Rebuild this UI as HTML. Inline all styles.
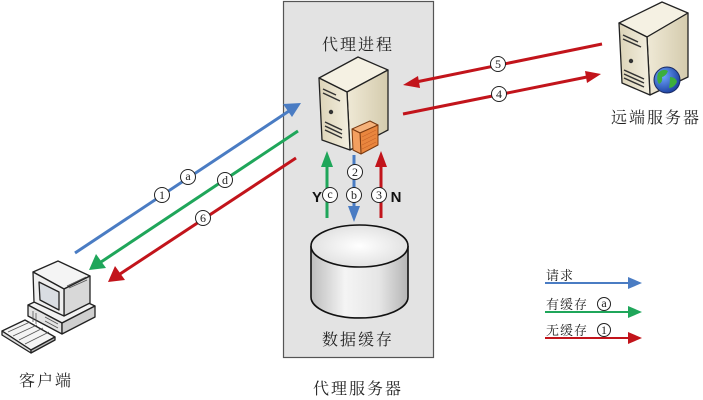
<!DOCTYPE html>
<html><head><meta charset="utf-8"><style>
html,body{margin:0;padding:0;background:#fff;}
svg{display:block;}
.cn{font-family:"Liberation Serif","Noto Serif CJK SC",serif;fill:#222;}
.cl{font-family:"Liberation Serif","Noto Serif CJK SC",serif;font-size:12px;fill:#222;text-anchor:middle;}
</style></head><body>
<svg width="703" height="400" viewBox="0 0 703 400" xmlns="http://www.w3.org/2000/svg">
<defs>
<linearGradient id="cyl" x1="0" x2="1" y1="0" y2="0">
<stop offset="0" stop-color="#bdbdbd"/><stop offset="0.35" stop-color="#f4f4f4"/><stop offset="0.7" stop-color="#e6e6e6"/><stop offset="1" stop-color="#b5b5b5"/>
</linearGradient>
<radialGradient id="cyltop" cx="0.5" cy="0.5" r="0.6">
<stop offset="0" stop-color="#ffffff"/><stop offset="1" stop-color="#dcdcdc"/>
</radialGradient>
<linearGradient id="srvR" x1="0" x2="1"><stop offset="0" stop-color="#efe9d6"/><stop offset="1" stop-color="#d4cbad"/></linearGradient>
<linearGradient id="srvF" x1="0" x2="1"><stop offset="0" stop-color="#ddd4b8"/><stop offset="1" stop-color="#f3efe0"/></linearGradient>
<radialGradient id="globe" cx="0.35" cy="0.35" r="0.7"><stop offset="0" stop-color="#6fa6ff"/><stop offset="1" stop-color="#1a3f9e"/></radialGradient>
</defs>

<!-- proxy box -->
<rect x="283.5" y="1.5" width="150" height="356" fill="#e3e3e3" stroke="#555" stroke-width="1.2"/>

<text class="cn" x="358" y="50" font-size="16" text-anchor="middle" letter-spacing="2">代理进程</text>
<text class="cn" x="358" y="345" font-size="16" text-anchor="middle" letter-spacing="2">数据缓存</text>
<text class="cn" x="358" y="394" font-size="16" text-anchor="middle" letter-spacing="2">代理服务器</text>
<text class="cn" x="656" y="123" font-size="16" text-anchor="middle" letter-spacing="2">远端服务器</text>
<text class="cn" x="46" y="386" font-size="16" text-anchor="middle" letter-spacing="2">客户端</text>

<!-- proxy server icon -->
<g stroke="#222" stroke-width="1.3" stroke-linejoin="round">
<polygon points="319,78 358,57 388,70 347,92" fill="#f5f1e3"/>
<polygon points="347,92 388,70 388,130 350,150" fill="url(#srvR)"/>
<polygon points="319,78 347,92 350,150 322,140" fill="url(#srvF)"/>
</g>
<g stroke="#333" stroke-width="1.5">
<line x1="323" y1="89" x2="336" y2="95"/>
<line x1="323" y1="93" x2="340" y2="101"/>
<line x1="325" y1="122" x2="342" y2="130"/>
<line x1="325" y1="126" x2="342" y2="134"/>
<line x1="325" y1="130" x2="342" y2="138"/>
</g>
<circle cx="331" cy="112" r="2.2" fill="#333"/>
<g stroke="#7a3a10" stroke-width="1" stroke-linejoin="round">
<polygon points="352,129 370,121 378,125 360,133" fill="#f5b27a"/>
<polygon points="360,133 378,125 378,145 361,154" fill="#e9863e"/>
<polygon points="352,129 360,133 361,154 353,150" fill="#f3a060"/>
</g>
<g stroke="#c8642a" stroke-width="0.6">
<line x1="362" y1="137" x2="376" y2="130"/><line x1="362" y1="141" x2="376" y2="134"/><line x1="362" y1="145" x2="376" y2="138"/><line x1="362" y1="149" x2="376" y2="142"/>
</g>

<!-- remote server icon -->
<g stroke="#222" stroke-width="1.3" stroke-linejoin="round">
<polygon points="619,23 662,2 688,13 647,37" fill="#f5f1e3"/>
<polygon points="647,37 688,13 688,77 650,95" fill="url(#srvR)"/>
<polygon points="619,23 647,37 650,95 622,83" fill="url(#srvF)"/>
</g>
<g stroke="#333" stroke-width="1.5">
<line x1="623" y1="35" x2="638" y2="42"/>
<line x1="623" y1="39" x2="641" y2="47"/>
<line x1="624" y1="70" x2="644" y2="79"/>
<line x1="624" y1="74" x2="644" y2="83"/>
<line x1="624" y1="78" x2="644" y2="87"/>
</g>
<circle cx="631" cy="61" r="2.2" fill="#333"/>
<circle cx="667" cy="80" r="13" fill="url(#globe)" stroke="#1a2a60" stroke-width="1"/>
<path d="M658,73 q5,-5 10,-2 q-2,5 -6,6 q1,5 -3,7 q-3,-4 -1,-11z M670,77 q6,0 7,5 q-3,6 -8,6 q1,-5 1,-11z" fill="#3cae3c"/>

<!-- client computer -->
<g stroke="#222" stroke-width="1.3" stroke-linejoin="round">
<polygon points="28,305 60,290 95,306 62,323" fill="#f2f2f2"/>
<polygon points="28,305 62,323 62,334 28,316" fill="#e4e4e4"/>
<polygon points="62,323 95,306 95,317 62,334" fill="#cfcfcf"/>
<polygon points="33,272 58,261 90,276 64,289" fill="#f4f4f4"/>
<polygon points="64,289 90,276 90,303 64,316" fill="#d8d8d8"/>
<polygon points="33,272 64,289 64,316 34,302" fill="#efefef"/>
<polygon points="39,282 59,292 59,310 40,300" fill="#d9dde2"/>
<polygon points="2,331 25,320 55,337 31,350" fill="#f4f4f4"/>
<polygon points="2,331 31,350 31,353 2,335" fill="#ddd"/>
<polygon points="31,350 55,337 55,340 31,353" fill="#bbb"/>
</g>
<g stroke="#555" stroke-width="0.8">
<line x1="8" y1="332" x2="30" y2="322"/><line x1="13" y1="336" x2="37" y2="325"/><line x1="19" y1="340" x2="43" y2="328"/><line x1="25" y1="344" x2="49" y2="332"/>
<line x1="67" y1="286" x2="86" y2="277"/><line x1="69" y1="288" x2="87" y2="280"/>
<line x1="33" y1="311" x2="33" y2="322"/><line x1="36" y1="313" x2="36" y2="324"/>
<line x1="45" y1="317" x2="58" y2="324"/><line x1="45" y1="321" x2="58" y2="328"/>
</g>

<!-- cylinder -->
<g stroke="#111" stroke-width="1.6">
<path d="M311,246 L311,297 A48.5,21 0 0 0 408,297 L408,246" fill="url(#cyl)"/>
<ellipse cx="359.5" cy="246" rx="48.5" ry="21" fill="url(#cyltop)"/>
</g>

<!-- diagonal left arrows -->
<g stroke-width="3" fill="none" stroke-linecap="butt">
<line x1="75" y1="253" x2="289" y2="111" stroke="#4a7cc3"/>
<line x1="298" y1="131" x2="101" y2="262" stroke="#1fa65a"/>
<line x1="296" y1="158" x2="120" y2="274" stroke="#c2141b"/>
</g>
<polygon points="301,103 283,104 292,117" fill="#4a7cc3"/>
<polygon points="89,270 96,254 106,268" fill="#1fa65a"/>
<polygon points="108,282 115,266 125,280" fill="#c2141b"/>

<!-- right arrows -->
<g stroke-width="3" fill="none">
<line x1="602" y1="44" x2="416" y2="82" stroke="#c2141b"/>
<line x1="403" y1="114" x2="587" y2="77" stroke="#c2141b"/>
</g>
<polygon points="403,85 418,76 420,88" fill="#c2141b"/>
<polygon points="601,74 585,71 587,83" fill="#c2141b"/>

<!-- vertical arrows -->
<g stroke-width="3">
<line x1="327" y1="218" x2="327" y2="164" stroke="#1fa65a"/>
<line x1="354" y1="155" x2="354" y2="208" stroke="#4a7cc3"/>
<line x1="381" y1="218" x2="381" y2="164" stroke="#c2141b"/>
</g>
<polygon points="327,151 321,167 333,167" fill="#1fa65a"/>
<polygon points="354,222 348,206 360,206" fill="#4a7cc3"/>
<polygon points="381,151 375,167 387,167" fill="#c2141b"/>

<text x="317" y="202" font-family="Liberation Sans,sans-serif" font-weight="bold" font-size="15" text-anchor="middle" fill="#111">Y</text>
<text x="396" y="202" font-family="Liberation Sans,sans-serif" font-weight="bold" font-size="15" text-anchor="middle" fill="#111">N</text>

<!-- circle labels -->
<g fill="#fff" stroke="#222" stroke-width="1">
<circle cx="162" cy="195" r="7.5"/><circle cx="188" cy="177" r="7.5"/><circle cx="225" cy="180" r="7.5"/><circle cx="203" cy="218" r="7.5"/>
<circle cx="498" cy="64" r="7.5"/><circle cx="499" cy="94" r="7.5"/>
<circle cx="355" cy="172" r="7.5"/><circle cx="330" cy="195" r="7.5"/><circle cx="354" cy="195" r="7.5"/><circle cx="379" cy="195" r="7.5"/>
</g>
<text class="cl" x="162" y="199">1</text>
<text class="cl" x="188" y="180">a</text>
<text class="cl" x="225" y="184">d</text>
<text class="cl" x="203" y="222">6</text>
<text class="cl" x="498" y="68">5</text>
<text class="cl" x="499" y="98">4</text>
<text class="cl" x="355" y="176">2</text>
<text class="cl" x="330" y="198">c</text>
<text class="cl" x="354" y="199">b</text>
<text class="cl" x="379" y="199">3</text>

<!-- legend -->
<text class="cn" x="546" y="280" font-size="13" letter-spacing="1">请求</text>
<text class="cn" x="546" y="309" font-size="13" letter-spacing="1">有缓存</text>
<text class="cn" x="546" y="335" font-size="13" letter-spacing="1">无缓存</text>
<g fill="#fff" stroke="#222" stroke-width="1">
<circle cx="604" cy="304" r="6.5"/><circle cx="604" cy="330" r="6.5"/>
</g>
<text class="cl" x="604" y="307" font-size="10">a</text>
<text class="cl" x="604" y="334" font-size="10">1</text>
<g stroke-width="2">
<line x1="545" y1="283" x2="630" y2="283" stroke="#4a7cc3"/>
<line x1="545" y1="312" x2="630" y2="312" stroke="#1fa65a"/>
<line x1="545" y1="338" x2="630" y2="338" stroke="#c2141b"/>
</g>
<polygon points="642,283 628,277 628,289" fill="#4a7cc3"/>
<polygon points="642,312 628,306 628,318" fill="#1fa65a"/>
<polygon points="642,338 628,332 628,344" fill="#c2141b"/>
</svg>
</body></html>
